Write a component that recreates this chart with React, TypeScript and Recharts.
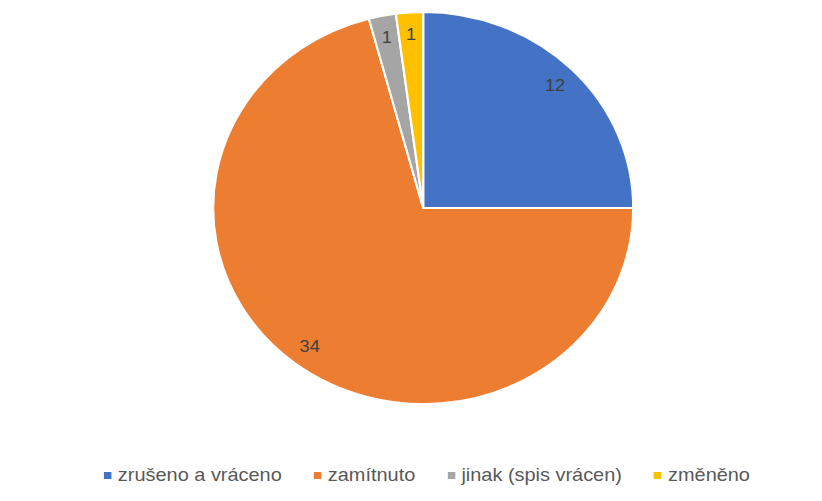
import { PieChart, Pie, Cell, Legend } from 'recharts';

const categories = ['zrušeno a vráceno', 'zamítnuto', 'jinak (spis vrácen)', 'změněno'];
const counts = [12, 34, 1, 1];
const colors = ['#4472C4', '#ED7D31', '#A5A5A5', '#FFC000'];

const chartData = categories.map((name, i) => ({ name, value: counts[i] }));

// the reference image is stretched a bit horizontally
const STRETCH = 1.0714;
const W = 767;
const H = 501;
const RAD = Math.PI / 180;

const renderLabel = (props: any) => {
  const { cx, cy, midAngle, value } = props;
  const r = 174;
  const x = cx + r * Math.cos(-midAngle * RAD);
  const y = cy + r * Math.sin(-midAngle * RAD);
  return (
    <text
      x={x}
      y={y}
      fill="#404040"
      fontSize={17}
      fontFamily="Liberation Sans, Arial, sans-serif"
      textAnchor="middle"
      dominantBaseline="central"
    >
      {value}
    </text>
  );
};

const renderLegend = () => (
  <div style={{ display: 'flex', alignItems: 'center', fontFamily: 'Liberation Sans, Arial, sans-serif', fontSize: 18.6, color: '#595959' }}>
    {categories.map((name, i) => (
      <div key={name} style={{ display: 'flex', alignItems: 'center', marginRight: i < categories.length - 1 ? 30 : 0 }}>
        <span style={{ width: 7, height: 7, background: colors[i], display: 'inline-block', marginRight: 6 }} />
        <span>{name}</span>
      </div>
    ))}
  </div>
);

export default function App() {
  return (
    <div
      style={{
        position: 'absolute',
        left: 0,
        top: 0,
        width: W,
        height: H,
        background: '#fff',
        transform: `scaleX(${STRETCH})`,
        transformOrigin: '0 0',
      }}
    >
      <PieChart width={W} height={H} margin={{ top: 0, right: 0, bottom: 0, left: 0 }}>
        <Pie
          data={chartData}
          dataKey="value"
          nameKey="name"
          cx={395}
          cy={208}
          outerRadius={196}
          startAngle={90}
          endAngle={-270}
          stroke="#ffffff"
          strokeWidth={2}
          labelLine={false}
          label={renderLabel}
          isAnimationActive={false}
        >
          {chartData.map((entry, index) => (
            <Cell key={`cell-${index}`} fill={colors[index]} />
          ))}
        </Pie>
        <Legend content={renderLegend} wrapperStyle={{ left: 97, top: 464, width: 'auto' }} />
      </PieChart>
    </div>
  );
}
